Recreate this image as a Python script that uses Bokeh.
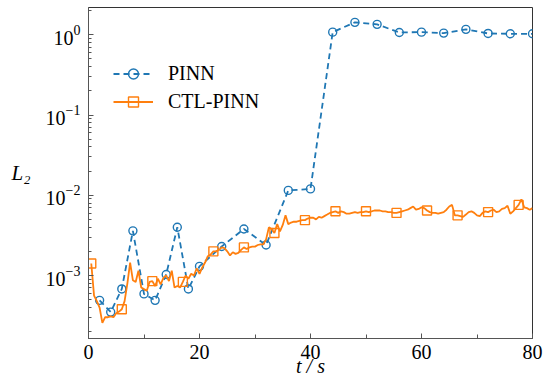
import numpy as np
from bokeh.plotting import figure
from bokeh.models import Range1d, Legend, LegendItem, FixedTicker
from bokeh.embed import file_html
from bokeh.resources import INLINE

# PINN (time in s, relative L2 error)
pinn_t = [2, 4, 6, 8, 10, 12, 14, 16, 18, 20, 24, 28, 32, 36, 40,
          44, 48, 52, 56, 60, 64, 68, 72, 76, 80]
pinn_l2 = [4.9e-4, 3.5e-4, 6.8e-4, 3.6e-3, 5.9e-4, 4.9e-4, 1.03e-3, 4.0e-3, 6.8e-4, 1.3e-3,
           2.3e-3, 3.8e-3, 2.4e-3, 1.15e-2, 1.2e-2,
           1.08, 1.43, 1.35, 1.07, 1.08, 1.05, 1.17, 1.04, 1.03, 1.03]

# CTL-PINN, sampled every 0.5 s from 0.5 s to 80 s
ctl_l2 = [
    1.41e-3, 5.62e-4, 4.79e-4, 3.98e-4, 2.57e-4, 3.02e-4, 3.02e-4, 3.09e-4, 3.02e-4, 3.39e-4,
    3.55e-4, 3.80e-4, 4.79e-4, 7.94e-4, 1.45e-3, 8.71e-4, 8.32e-4, 1.15e-3, 7.08e-4, 6.76e-4,
    6.46e-4, 8.32e-4, 8.51e-4, 7.41e-4, 9.12e-4, 7.76e-4, 9.33e-4, 1.00e-3, 8.51e-4, 1.15e-3,
    7.08e-4, 7.41e-4, 7.08e-4, 8.32e-4, 1.00e-3, 9.12e-4, 1.05e-3, 1.00e-3, 1.23e-3, 1.05e-3,
    1.26e-3, 1.45e-3, 1.74e-3, 1.82e-3, 2.00e-3, 2.00e-3, 2.09e-3, 2.24e-3, 2.19e-3, 2.00e-3,
    1.78e-3, 1.95e-3, 1.86e-3, 1.91e-3, 2.09e-3, 2.24e-3, 2.14e-3, 2.24e-3, 2.29e-3, 2.29e-3,
    2.40e-3, 2.45e-3, 2.45e-3, 2.82e-3, 3.98e-3, 3.80e-3, 3.39e-3, 4.37e-3, 3.55e-3, 4.27e-3,
    5.62e-3, 4.37e-3, 4.57e-3, 4.68e-3, 4.68e-3, 4.79e-3, 4.90e-3, 4.90e-3, 5.13e-3, 5.25e-3,
    5.25e-3, 5.01e-3, 5.37e-3, 5.25e-3, 5.50e-3, 5.75e-3, 6.03e-3, 6.17e-3, 6.31e-3, 6.03e-3,
    6.31e-3, 6.17e-3, 5.89e-3, 5.89e-3, 6.03e-3, 6.17e-3, 6.03e-3, 6.17e-3, 6.17e-3, 6.31e-3,
    6.17e-3, 6.31e-3, 6.46e-3, 6.46e-3, 6.46e-3, 6.31e-3, 6.31e-3, 6.17e-3, 6.17e-3, 6.03e-3,
    6.03e-3, 6.17e-3, 6.31e-3, 6.46e-3, 6.61e-3, 6.92e-3, 7.24e-3, 6.61e-3, 6.76e-3, 7.08e-3,
    6.92e-3, 6.46e-3, 6.17e-3, 6.03e-3, 6.03e-3, 5.89e-3, 6.03e-3, 6.17e-3, 6.61e-3, 7.24e-3,
    7.59e-3, 5.62e-3, 5.62e-3, 5.50e-3, 5.37e-3, 5.75e-3, 6.17e-3, 6.31e-3, 6.03e-3, 5.62e-3,
    5.50e-3, 6.03e-3, 6.31e-3, 6.17e-3, 6.46e-3, 6.61e-3, 6.17e-3, 6.31e-3, 6.76e-3, 6.92e-3,
    7.41e-3, 5.89e-3, 6.31e-3, 6.92e-3, 7.59e-3, 8.91e-3, 7.08e-3, 6.92e-3, 6.61e-3, 6.92e-3,
]
ctl_t = [0.5 * (i + 1) for i in range(len(ctl_l2))]
mark_every = 11
ctl_mark_t = ctl_t[::mark_every]
ctl_mark_l2 = ctl_l2[::mark_every]

x_ticks = [0, 20, 40, 60, 80]
x_minor_ticks = [10, 30, 50, 70]

FONT = "Liberation Serif"
BLUE = "#1f77b4"
ORANGE = "#ff7f0e"

p = figure(width=554, height=382, output_backend="svg", toolbar_location=None,
           y_axis_type="log", x_range=Range1d(0, 80), y_range=Range1d(1.64e-4, 2.19),
           min_border_left=88, min_border_right=22, min_border_top=7, min_border_bottom=44)
p.xgrid.visible = False
p.ygrid.visible = False
p.outline_line_color = "#333333"
p.outline_line_width = 1
p.background_fill_color = "white"
p.border_fill_color = "white"

p.xaxis.ticker = FixedTicker(ticks=x_ticks, minor_ticks=x_minor_ticks)
for ax in (p.xaxis[0], p.yaxis[0]):
    ax.axis_line_color = "#555555"
    ax.major_tick_line_color = "#555555"
    ax.minor_tick_line_color = "#555555"
    ax.major_tick_in = 5
    ax.major_tick_out = 0
    ax.minor_tick_out = 0
    ax.major_label_text_font = FONT
    ax.major_label_text_font_size = "20px"
    ax.major_label_text_font_style = "normal"
    ax.major_label_text_color = "black"
    ax.axis_label_text_font = FONT
    ax.axis_label_text_font_style = "italic"
    ax.axis_label_text_color = "black"
p.xaxis.minor_tick_in = 4
p.yaxis.minor_tick_in = 3
p.xaxis.major_label_standoff = 6
p.yaxis.major_label_standoff = 8

p.yaxis.axis_label = "L\u2082"
p.yaxis.axis_label_orientation = "horizontal"
p.yaxis.axis_label_text_font_size = "21px"
p.yaxis.axis_label_standoff = 12

p.xaxis.axis_label = "t / s"
p.xaxis.axis_label_text_font_size = "20px"
p.xaxis.axis_label_standoff = -7

pinn_line = p.line(pinn_t, pinn_l2, line_color=BLUE, line_width=1.8, line_dash="6 4")
pinn_mk = p.scatter(pinn_t, pinn_l2, marker="circle", size=8, line_color=BLUE,
                    line_width=1.4, fill_alpha=0)
ctl_line = p.line(ctl_t, ctl_l2, line_color=ORANGE, line_width=1.8)
ctl_mk = p.scatter(ctl_mark_t, ctl_mark_l2, marker="square", size=9, line_color=ORANGE,
                   line_width=1.4, fill_alpha=0)

legend = Legend(items=[LegendItem(label="PINN", renderers=[pinn_line, pinn_mk]),
                       LegendItem(label="CTL-PINN", renderers=[ctl_line, ctl_mk])],
                location=(15, 214), margin=0, padding=10, spacing=3,
                glyph_width=40, glyph_height=25, label_height=25, label_standoff=15,
                label_text_font=FONT, label_text_font_size="20px", label_text_color="black",
                background_fill_alpha=0, border_line_alpha=0)
p.add_layout(legend)

open("out.html", "w").write(file_html(p, INLINE))
